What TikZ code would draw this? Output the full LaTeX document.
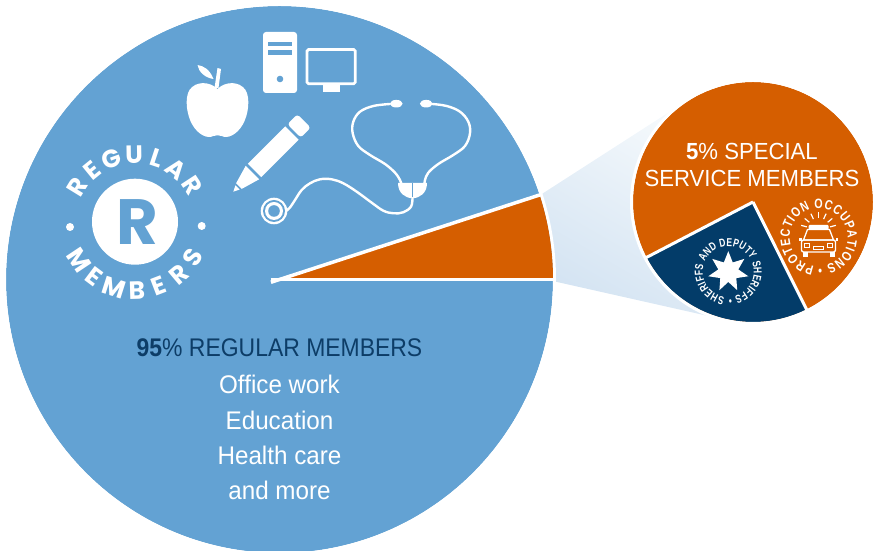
\documentclass[tikz,border=0pt]{standalone}
\usepackage{fontspec}
\setmainfont{Liberation Sans}
\newfontfamily\condfont[FakeStretch=0.95]{Liberation Sans}
\newfontfamily\capsfont[FakeStretch=0.9]{Liberation Sans}
\newfontfamily\ringfont[FakeStretch=0.74]{Liberation Sans}
\newfontfamily\ringfontb[FakeStretch=0.8]{Liberation Sans}
\newfontfamily\badgefont{Poppins}
\usetikzlibrary{shapes.geometric,decorations.text,calc}
\definecolor{mainblue}{HTML}{63A2D3}
\definecolor{wedgeorange}{HTML}{D55E00}
\definecolor{navy}{HTML}{033C69}
\definecolor{navytext}{HTML}{0D3D67}
\definecolor{beamlow}{HTML}{D3E3F2}
\definecolor{beamhigh}{HTML}{F8FBFD}
\tikzset{
  sepline/.style={draw=white, line width=3.5pt},
  rimline/.style={draw=white, line width=3pt},
  tube/.style={draw=white, line width=2.4pt, line cap=round, line join=round},
  maintext/.style={font=\condfont\fontsize{25.5}{30}\selectfont, text=white, anchor=base, inner sep=0pt},
  captext/.style={font=\capsfont\fontsize{25.5}{30}\selectfont, text=navytext, anchor=base, inner sep=0pt},
  smalltext/.style={font=\condfont\fontsize{23.3}{27}\selectfont, text=white, anchor=base, inner sep=0pt},
  badgeletter/.style={font=\badgefont\bfseries\fontsize{25}{25}\selectfont, text=white, inner sep=0pt},
  carline/.style={draw=white, line width=1.3pt, line join=round},
}
\begin{document}
\begin{tikzpicture}[x=1pt,y=1pt]
\useasboundingbox (0,0) rectangle (873,551);
\clip (0,0) rectangle (873,551);
\coordinate (mc) at (279.5,271.5);
\coordinate (sc) at (753,349);
\coordinate (bc) at (135,328);
\coordinate (stc) at (728.3,279.3);
\coordinate (pc) at (818.7,313.5);

% beam
\shade[top color=beamhigh, bottom color=beamlow, shading angle=-30]
  (528.2,348.2) -- (687.5,450.7) -- (sc) -- (726.5,230.9) -- (537.5,273.4) -- cycle;

% main pie
\fill[mainblue] (mc) circle[radius=273.5];
\draw[rimline] (mc) circle[radius=275];
\fill[wedgeorange] (mc) -- ++(0:273.5) arc[start angle=0, end angle=18, radius=273.5] -- cycle;
\draw[sepline] ($(mc)+(180:9)$) -- ($(mc)+(0:275)$);
\draw[sepline] ($(mc)+(198:9)$) -- ($(mc)+(18:275)$);

% small pie
\fill[wedgeorange] (sc) circle[radius=120];
\fill[navy] (sc) -- ++(207.5:120) arc[start angle=207.5, end angle=296.5, radius=120] -- cycle;
\draw[sepline, line width=3pt] (sc) -- ++(207.5:121);
\draw[sepline, line width=3pt] (sc) -- ++(296.5:121);
\draw[rimline] (sc) circle[radius=121.5];

% main texts
\node[captext] (t95) at (279.5,194.3) {\textbf{95}\% REGULAR MEMBERS};
\node[maintext] (toffice) at (279.5,157) {Office work};
\node[maintext] (tedu) at (279.5,121) {Education};
\node[maintext] (thealth) at (279.5,86) {Health care};
\node[maintext] (tmore) at (279.5,51) {and more};

% small pie texts
\node[smalltext] (t5) at (752,391) {\textbf{5}\% SPECIAL};
\node[smalltext] (tserv) at (752,364.3) {SERVICE MEMBERS};

% badge
\node[circle, fill=white, minimum size=86pt, inner sep=0pt] (rdisc) at (135,329.3) {};
\node[font=\badgefont\bfseries\fontsize{64}{64}\selectfont, text=mainblue, inner sep=0pt] (rletter) at (137,329) {R};
\foreach \ch [count=\i from 0] in {R,E,G,U,L,A,R}{
  \pgfmathsetmacro\ang{148.4-\i*19.2}
  \node[badgeletter, rotate=\ang-90] (regtop\i) at ($(bc)+(\ang:68)$) {\ch};
}
\foreach \ch [count=\i from 0] in {M,E,M,B,E,R,S}{
  \pgfmathsetmacro\ang{213.7+\i*19.3}
  \node[badgeletter, rotate=\ang+90] (regbot\i) at ($(bc)+(\ang:67.5)$) {\ch};
}
\fill[white] (70,324) circle[radius=4];
\fill[white] (201.7,325) circle[radius=4];

% apple
\begin{scope}[shift={(217.5,441)}]
  \fill[white] (0,21) .. controls (-8,29) and (-22,29) .. (-28,20)
    .. controls (-33,12) and (-31,-5) .. (-25,-15)
    .. controls (-19,-25) and (-10,-29) .. (-4,-26)
    .. controls (-1,-25) and (1,-25) .. (4,-26)
    .. controls (10,-29) and (19,-25) .. (25,-15)
    .. controls (31,-5) and (33,12) .. (28,20)
    .. controls (22,29) and (8,29) .. (0,21) -- cycle;
  \fill[white] (-3,22) -- (1,22) -- (3.5,41) -- (0,42) -- cycle;
  \fill[white] (-4,31) .. controls (-8,41) and (-14,44) .. (-20,45)
    .. controls (-19,38) and (-12,32) .. (-4,31) -- cycle;
\end{scope}

% computer tower
\fill[white, rounded corners=3pt] (263,458) rectangle (297,519);
\fill[mainblue] (268,504.5) rectangle (292,509.3);
\fill[mainblue] (268,496.2) rectangle (292,501);
\fill[mainblue] (280,472) circle[radius=3.3];

% monitor
\draw[white, line width=2.7pt, rounded corners=1.5pt] (307,467.3) rectangle (355.3,501.4);
\fill[white] (322.7,458.7) rectangle (340,466);

% pencil
\begin{scope}[shift={(233.3,359.3)}, rotate=45]
  \fill[white] (0,0) -- (6,3) -- (6,-3) -- cycle;
  \fill[white] (8,-4) -- (8,4) -- (27,9.5) -- (27,-9.5) -- cycle;
  \fill[white] (30,-9.5) rectangle (83,9.5);
  \fill[white, rounded corners=3pt] (86,-9.5) -- (86,9.5) -- (100,9.5) -- (100,-9.5) -- cycle;
\end{scope}

% stethoscope
\fill[white] (396.3,447.3) ellipse[x radius=6.3, y radius=3.8];
\fill[white] (426.2,447.3) ellipse[x radius=6.3, y radius=3.8];
\draw[tube] plot[smooth, tension=0.6] coordinates {(390,447) (373.3,445) (360,439.3) (353.3,429.3) (352.7,417.7) (358.3,405) (370,396) (385,387) (395,378.3) (400,371) (401.7,366)};
\draw[tube] plot[smooth, tension=0.6] coordinates {(432.3,447) (446.7,445) (460,439.3) (468.3,429.3) (470,417.7) (465,405) (453.3,396) (438.3,387) (428.3,378.3) (425,371) (424.3,366)};
\draw[tube] plot[smooth, tension=0.6] coordinates {(412.5,353) (411,344.3) (403.3,338.7) (393.3,337.7) (383.3,340.3) (371.7,348.3) (356.7,359.3) (343.3,367.7) (331.7,371.7) (320,371.7) (310,367.7) (301.7,361) (295,351) (290,343.5) (286,340)};
\fill[white] (398,368) -- (427,368) .. controls (427,358) and (420,353) .. (412.5,352.7)
  .. controls (405,353) and (398,358) .. (398,368) -- cycle;
\draw[mainblue, line width=0.8pt] (412.5,354) -- (412.5,368);
\fill[white] (274,340) circle[radius=13.3];
\fill[mainblue] (274,340) circle[radius=11];
\fill[white] (274,340) circle[radius=9];
\fill[mainblue] (274,340) circle[radius=5.8];

% sheriffs star and ring text
\node[star, star points=7, star point ratio=2, fill=white, minimum size=41pt, inner sep=0pt] (star) at (stc) {};
\path[decorate, decoration={text along path, text align=fit to path, text color=white,
  text={|\ringfont\bfseries\fontsize{11.5}{11.5}\selectfont|SHERIFFS AND DEPUTY SHERIFFS •}}]
  (stc) ++(262:25.5) arc[start angle=262, end angle=-89, radius=25.5];

% police car and ring text
\begin{scope}[shift={(818.5,310)}]
  \fill[white, rounded corners=1pt] (-10,11.5) rectangle (10,16);
  \foreach \a in {15,40,65,90,115,140,165}
    \draw[white, line width=1.2pt] ($(0,11)+(\a:12)$) -- ($(0,11)+(\a:18)$);
  \draw[carline] (-11,11.5) -- (11,11.5) -- (15,1) -- (-15,1) -- cycle;
  \draw[carline, rounded corners=2pt] (-17,-11) rectangle (17,1);
  \fill[white] (-19.5,0) rectangle (-17,3);
  \fill[white] (17,0) rectangle (19.5,3);
  \draw[white, line width=1pt] (-14,-7) rectangle (-9,-3);
  \draw[white, line width=1pt] (9,-7) rectangle (14,-3);
  \draw[white, line width=1pt] (-5,-8.5) rectangle (5,-5.5);
  \fill[white] (-16,-16) rectangle (-11,-11);
  \fill[white] (11,-16) rectangle (16,-11);
\end{scope}
\path[decorate, decoration={text along path, text align=fit to path, text color=white,
  text={|\ringfontb\bfseries\fontsize{13.5}{13.5}\selectfont|PROTECTION OCCUPATIONS •}}]
  (pc) ++(261:29) arc[start angle=261, end angle=-91, radius=29];
\end{tikzpicture}
\end{document}
